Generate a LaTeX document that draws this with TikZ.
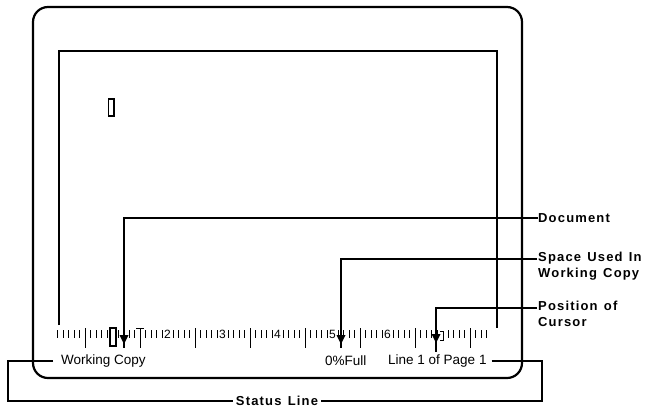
\documentclass[tikz,border=0pt]{standalone}
\usepackage{fontspec}
\newfontfamily\scrfont{Liberation Sans}
\newfontfamily\labfont[LetterSpace=9,WordSpace=1.3]{Liberation Sans}
\begin{document}
\begin{tikzpicture}[x=1pt,y=-1pt,
  frame/.style={line width=1.5pt},
  conn/.style={line width=1.3pt},
  tick/.style={line width=1pt},
  scrtext/.style={font=\scrfont\fontsize{13.5}{16}\selectfont, inner sep=0pt},
  digit/.style={font=\scrfont\fontsize{12}{13}\selectfont, inner sep=0pt},
  labtext/.style={font=\labfont\bfseries\fontsize{13}{16}\selectfont, inner sep=0pt, align=left},
  arrowhead/.style={fill=black}
]
\useasboundingbox (0,0) rectangle (648,408);
% monitor outline
\draw[line width=2.2pt, rounded corners=15pt] (33,7) rectangle (522,378);
% inner frame
\draw[frame] (59,325) -- (59,51) -- (497,51) -- (497,328);
% cursor
\draw[line width=1.5pt] (108.5,99) rectangle (114,116);
% ruler
\foreach \c in {0,...,78}{
  \pgfmathtruncatemacro\m{mod(\c,10)}
  \pgfmathsetmacro\xx{57.5+5.5*\c}
  \ifnum\m=5
    \draw[tick] (\xx,328) -- (\xx,348);
  \else
    \ifnum\m=0
      \ifnum\c=0 \draw[tick] (\xx,330) -- (\xx,338); \fi
    \else
      \draw[tick] (\xx,330) -- (\xx,338);
    \fi
  \fi
}
\draw[tick] (136,328) -- (144,328);
\foreach \d in {2,...,6}{
  \node[digit] (d\d) at ({57.5+55*\d},334) {\d};
}
% ruler cursor bracket
\draw[line width=1.2pt] (110,328) rectangle (116,346);
\draw[line width=1pt] (440,331) -- (443,331) -- (443,340) -- (440,340);
% status texts
\node[scrtext, anchor=west] (wc) at (61,361) {Working Copy};
\node[scrtext, anchor=west] (full) at (325,361) {0\%Full};
\node[scrtext, anchor=west] (lp) at (388,361) {Line 1 of Page 1};
% labels
\node[labtext, anchor=west] (doc) at (538,218) {Document};
\node[labtext, anchor=north west] (sp) at (538,252) {Space Used In\\Working Copy};
\node[labtext, anchor=north west] (pos) at (538,301) {Position of\\Cursor};
\node[labtext, inner sep=3pt] (st) at (277,401) {Status Line};
\coordinate (spc) at (537,259);
\coordinate (posc) at (537,308);
\coordinate (dA) at (124,348);
\coordinate (sA) at (341,348);
\coordinate (pA) at (436,352);
% connectors
\draw[conn] (doc.west) -| (dA);
\draw[conn] (spc) -| (sA);
\draw[conn] (posc) -| (pA);
\fill[arrowhead] ([shift={(-4.5,-13)}]dA) -- ([shift={(4.5,-13)}]dA) -- ([shift={(0,-4)}]dA) -- cycle;
\fill[arrowhead] ([shift={(-4.5,-13)}]sA) -- ([shift={(4.5,-13)}]sA) -- ([shift={(0,-4)}]sA) -- cycle;
\fill[arrowhead] ([shift={(-4.5,-18)}]pA) -- ([shift={(4.5,-18)}]pA) -- ([shift={(0,-9)}]pA) -- cycle;
% status line bracket
\draw[conn] ([xshift=-8pt]wc.west) -| (8,401) -- (st.west);
\draw[conn] ([xshift=5pt]lp.east) -| (542,401) -- (st.east);
\end{tikzpicture}
\end{document}
